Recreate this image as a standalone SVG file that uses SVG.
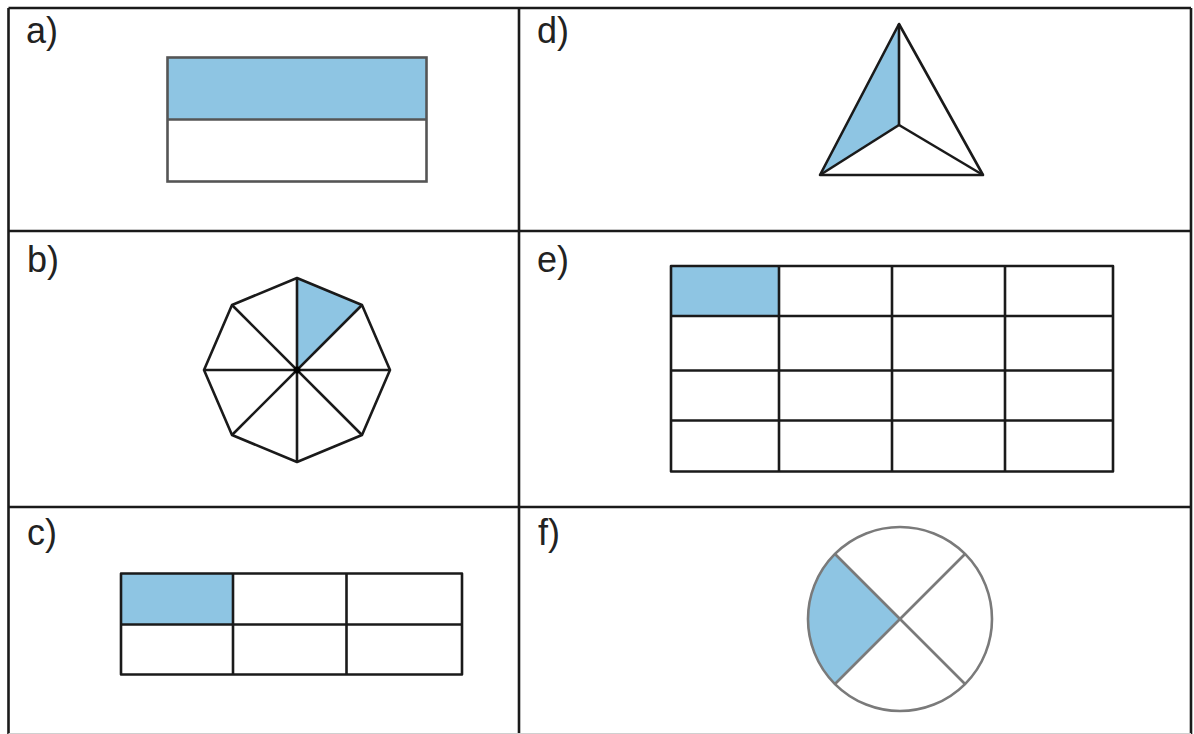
<svg xmlns="http://www.w3.org/2000/svg" width="1194" height="734" viewBox="0 0 1194 734">
  <style>
    .frame { fill: none; stroke: #1a1a1a; stroke-width: 2.6; }
    .ln { fill: none; stroke: #1a1a1a; stroke-width: 2.6; stroke-linejoin: round; }
    .soft { fill: none; stroke: #555; stroke-width: 2.6; }
    .grey { fill: none; stroke: #7a7a7a; stroke-width: 2.6; }
    .blue { fill: #8EC5E3; }
    .lbl { font-family: "Liberation Sans", Arial, sans-serif; font-size: 36px; fill: #222; }
  </style>
  <rect x="0" y="0" width="1194" height="734" fill="#ffffff"/>

  <g id="frame">
    <line x1="8.5" y1="734" x2="8.5" y2="8" class="frame"/>
    <line x1="8.5" y1="8" x2="1191" y2="8" class="frame"/>
    <line x1="1191" y1="8" x2="1191" y2="734" class="frame"/>
    <line x1="519" y1="8" x2="519" y2="734" class="frame"/>
    <line x1="8.5" y1="231" x2="1191" y2="231" class="frame"/>
    <line x1="8.5" y1="507" x2="1191" y2="507" class="frame"/>
    <line x1="8.5" y1="733.5" x2="1191" y2="733.5" stroke="#d0d0d0" stroke-width="1"/>
  </g>

  <g id="panel-a">
    <text x="26" y="43" class="lbl">a)</text>
    <rect x="167.5" y="57.5" width="259" height="62" class="blue"/>
    <rect x="167.5" y="57.5" width="259" height="124" class="soft"/>
    <line x1="167.5" y1="119.5" x2="426.5" y2="119.5" class="soft"/>
  </g>

  <g id="panel-b">
    <text x="27" y="272" class="lbl">b)</text>
    <polygon points="297,370 297,278 362,305" class="blue"/>
    <polygon points="297,278 362,305 390,370 362,435 297,462 232,435 204,370 232,305" class="ln"/>
    <line x1="297" y1="278" x2="297" y2="462" class="ln"/>
    <line x1="204" y1="370" x2="390" y2="370" class="ln"/>
    <line x1="232" y1="305" x2="362" y2="435" class="ln"/>
    <line x1="362" y1="305" x2="232" y2="435" class="ln"/>
    <circle cx="297" cy="370" r="3.5" fill="#000"/>
  </g>

  <g id="panel-c">
    <text x="27" y="545" class="lbl">c)</text>
    <rect x="121" y="573.5" width="112" height="51" class="blue"/>
    <rect x="121" y="573.5" width="341" height="101" class="ln"/>
    <line x1="121" y1="624.5" x2="462" y2="624.5" class="ln"/>
    <line x1="233" y1="573.5" x2="233" y2="674.5" class="ln"/>
    <line x1="346.5" y1="573.5" x2="346.5" y2="674.5" class="ln"/>
  </g>

  <g id="panel-d">
    <text x="537" y="43" class="lbl">d)</text>
    <polygon points="899,24 899,125 820,175" class="blue"/>
    <polygon points="899,24 983,175 820,175" class="ln"/>
    <line x1="899" y1="24" x2="899" y2="125" class="ln"/>
    <line x1="899" y1="125" x2="820" y2="175" class="ln"/>
    <line x1="899" y1="125" x2="983" y2="175" class="ln"/>
  </g>

  <g id="panel-e">
    <text x="537" y="272" class="lbl">e)</text>
    <rect x="671" y="266" width="108" height="50" class="blue"/>
    <rect x="671" y="266" width="442" height="205.5" class="ln"/>
    <line x1="671" y1="316" x2="1113" y2="316" class="ln"/>
    <line x1="671" y1="370.5" x2="1113" y2="370.5" class="ln"/>
    <line x1="671" y1="420.5" x2="1113" y2="420.5" class="ln"/>
    <line x1="779" y1="266" x2="779" y2="471.5" class="ln"/>
    <line x1="892" y1="266" x2="892" y2="471.5" class="ln"/>
    <line x1="1005" y1="266" x2="1005" y2="471.5" class="ln"/>
  </g>

  <g id="panel-f">
    <text x="538" y="545" class="lbl">f)</text>
    <path d="M835,554 L900,619 L835,684 A92,92 0 0 1 835,554 Z" class="blue"/>
    <circle cx="900" cy="619" r="92" class="grey"/>
    <line x1="835" y1="554" x2="965" y2="684" class="grey"/>
    <line x1="965" y1="554" x2="835" y2="684" class="grey"/>
  </g>
</svg>
